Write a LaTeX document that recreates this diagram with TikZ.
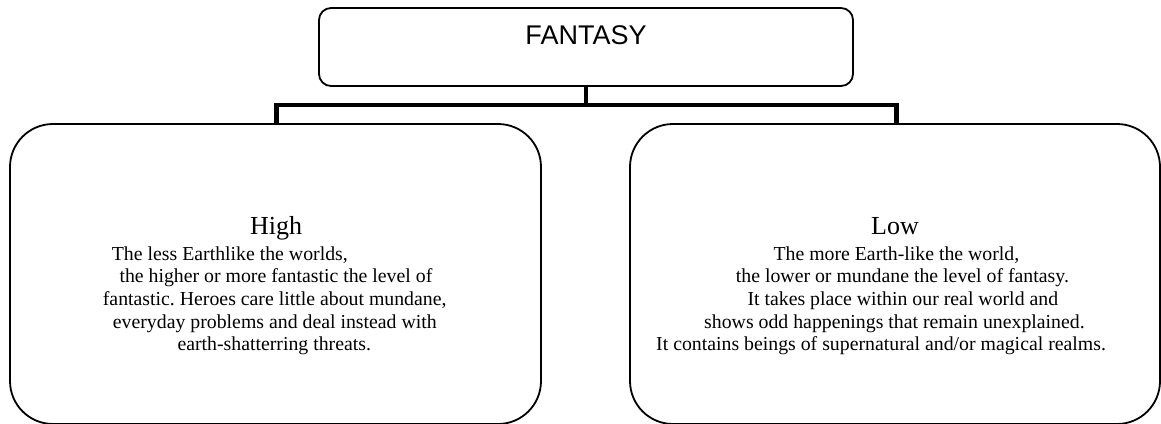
\documentclass[tikz,border=0pt]{standalone}
\usepackage{fontspec}
\setmainfont{Liberation Serif}
\newfontfamily\headfont{Liberation Sans}
\frenchspacing
\begin{document}
\begin{tikzpicture}[x=1pt,y=-1pt,
  box/.style={draw=black, line width=1.8pt, rounded corners=#1,
    inner sep=0pt, outer sep=0pt},
  conn/.style={draw=black, line width=4.5pt, line join=miter},
  title/.style={anchor=base, inner sep=0pt, font=\headfont\fontsize{27}{30}\selectfont},
  head/.style={anchor=base, inner sep=0pt, font=\fontsize{26}{30}\selectfont},
  body/.style={anchor=base west, inner sep=0pt, font=\fontsize{19.8}{23}\selectfont}]
\useasboundingbox (0,0) rectangle (1161,423);
\clip (0,0) rectangle (1161,423);

% top box
\node[box=12pt, minimum width=534pt, minimum height=78pt] (top) at (586,47) {};
\node[title] (toptext) at (586,44) {FANTASY};

% the two branches
\node[box=43pt, minimum width=531pt, minimum height=300pt] (hi) at (275.5,274) {};
\node[box=43pt, minimum width=530pt, minimum height=300pt] (lo) at (895,274) {};

% tree connector
\coordinate (busL) at (276.5,105);
\coordinate (busR) at (896.5,105);
\draw[conn] (top.south) -- (top.south |- busL);
\draw[conn] (hi.north -| busL) -- (busL) -- (busR) -- (lo.north -| busR);

% left branch text
\node[head] (hihead) at (276,234) {High};
\node[body] (hi1) at (111.7,260) {The less Earthlike the worlds,};
\node[body] (hi2) at (119.3,282.7) {the higher or more fantastic the level of};
\node[body] (hi3) at (102.7,305.4) {fantastic. Heroes care little about mundane,};
\node[body] (hi4) at (112.7,328.1) {everyday problems and deal instead with};
\node[body] (hi5) at (177.3,350.8) {earth-shatterring threats.};

% right branch text
\node[head] (lohead) at (895,234) {Low};
\node[body] (lo1) at (773.3,260) {The more Earth-like the world,};
\node[body] (lo2) at (735.7,282.7) {the lower or mundane the level of fantasy.};
\node[body] (lo3) at (747.3,305.4) {It takes place within our real world and};
\node[body] (lo4) at (704,328.1) {shows odd happenings that remain unexplained.};
\node[body] (lo5) at (656,350.8) {It contains beings of supernatural and/or magical realms.};
\end{tikzpicture}
\end{document}
